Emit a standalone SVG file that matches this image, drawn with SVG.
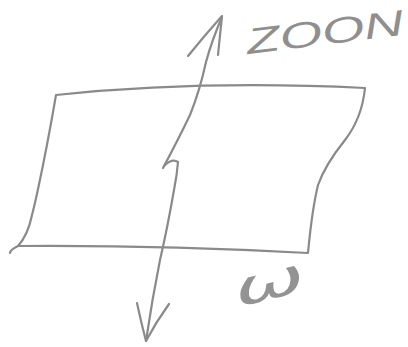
<svg xmlns="http://www.w3.org/2000/svg" width="408" height="347" viewBox="0 0 408 347">
<style>
.p{fill:none;stroke:#8a8a8a;stroke-width:2.2;stroke-linecap:round;stroke-linejoin:round}
.t{font-family:"Liberation Sans",sans-serif;font-style:italic;fill:#8f8f8f}
</style>
<rect width="408" height="347" fill="#fff"/>
<g id="plane">
<path class="p" d="M56,95 Q200,80 365,88 Q362,118 345,140 Q325,165 318,185 Q312,210 308,253 Q160,245 18,246 Q10,250 10,253 M56,95 Q50,130 44,160 Q36,200 32,215 Q28,235 18,246"/>
</g>
<g id="connectors">
<g id="vector-up">
<path class="p" d="M163,168 Q178,140 190,115 Q200,90 206,62 Q212,40 222,17"/>
<path class="p" d="M188,56 Q205,35 222,16 Q220,35 218,55"/>
</g>
<g id="vector-down">
<path class="p" d="M164,166 Q172,158 178,162 Q177,175 174,190 Q167,230 160,260 Q152,300 146,341"/>
<path class="p" d="M137,303 Q141,322 146,341 Q156,322 169,304"/>
</g>
</g>
<g id="label-zoom">
<text class="t" x="248" y="54" font-size="36" textLength="158" lengthAdjust="spacingAndGlyphs" transform="rotate(-7 248 54)">ZOON</text>
</g>
<g id="label-omega">
<text x="238" y="307" font-family="DejaVu Sans, sans-serif" font-style="italic" font-size="48" fill="#939393" textLength="72" lengthAdjust="spacingAndGlyphs" transform="rotate(-14 238 307)">ω</text>
</g>
</svg>
